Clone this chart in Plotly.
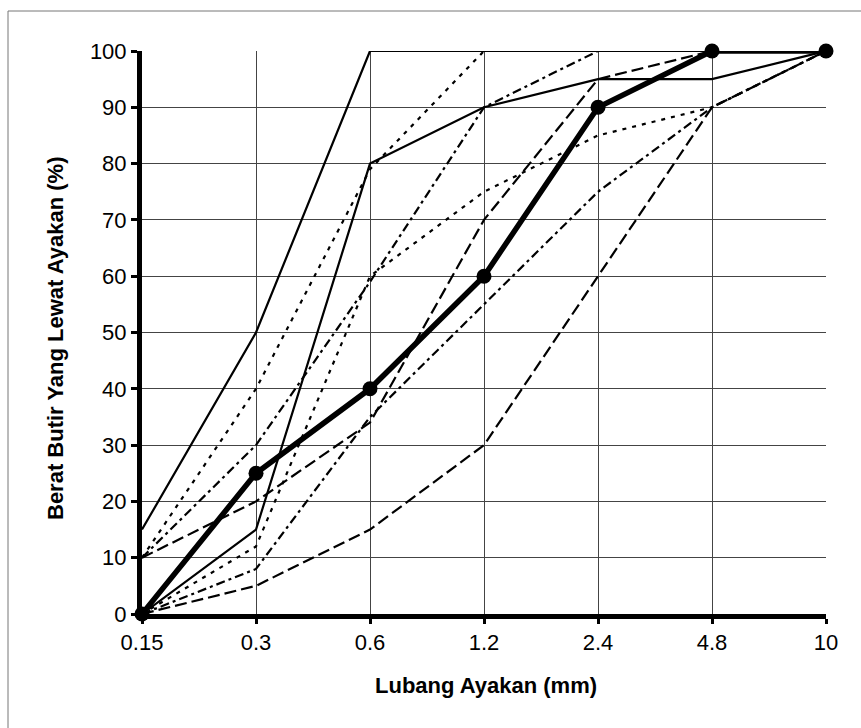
import plotly.graph_objects as go

sieve = ["0.15", "0.3", "0.6", "1.2", "2.4", "4.8", "10"]

zone4_upper = [15, 50, 100, 100, 100, 100, 100]
zone4_lower = [0, 15, 80, 90, 95, 95, 100]
zone3_upper = [10, 40, 79, 100, 100, 100, 100]
zone3_lower = [0, 12, 60, 75, 85, 90, 100]
zone2_upper = [10, 30, 59, 90, 100, 100, 100]
zone2_lower = [0, 8, 35, 55, 75, 90, 100]
zone1_upper = [10, 20, 34, 70, 95, 100, 100]
zone1_lower = [0, 5, 15, 30, 60, 90, 100]
sample = [0, 25, 40, 60, 90, 100, 100]

y_ticks = list(range(0, 101, 10))

W, H = 861, 728
L, R, T, B = 142, 826, 51, 614
FONT = "Liberation Sans, Arial, sans-serif"


def px(x):
    return (x - L) / (R - L)


def py(y):
    return (B - y) / (B - T)


fig = go.Figure()

styles = [
    (zone1_lower, "12px,5px"),
    (zone1_upper, "12px,5px"),
    (zone2_lower, "9px,4px,3px,4px"),
    (zone2_upper, "9px,4px,3px,4px"),
    (zone3_lower, "4px,6px"),
    (zone3_upper, "4px,6px"),
    (zone4_lower, "solid"),
    (zone4_upper, "solid"),
]
for vals, dash in styles:
    fig.add_trace(go.Scatter(
        x=sieve, y=vals, mode="lines", cliponaxis=False,
        line=dict(color="black", width=2.2, dash=dash),
        showlegend=False, hoverinfo="skip"))

fig.add_trace(go.Scatter(
    x=sieve, y=sample, mode="lines+markers", cliponaxis=False,
    line=dict(color="black", width=5.5),
    marker=dict(color="black", size=15),
    showlegend=False))

fig.update_layout(
    width=W, height=H,
    margin=dict(l=L, r=W - R, t=T, b=H - B),
    paper_bgcolor="white", plot_bgcolor="white",
    font=dict(family=FONT, color="black", size=22),
    xaxis=dict(
        type="category", range=[0, 6],
        tickvals=sieve, ticktext=sieve,
        showgrid=True, gridcolor="#444", gridwidth=1,
        showline=True, linecolor="black", linewidth=5,
        ticks="outside", ticklen=5, tickwidth=3, tickcolor="black",
        tickfont=dict(size=22),
        zeroline=False,
    ),
    yaxis=dict(
        range=[0, 100], tickvals=y_ticks,
        showgrid=True, gridcolor="#444", gridwidth=1,
        showline=True, linecolor="black", linewidth=5,
        ticks="outside", ticklen=6, tickwidth=3, tickcolor="black",
        tickfont=dict(size=22),
        zeroline=False,
    ),
    annotations=[
        dict(text="<b>Lubang Ayakan (mm)</b>", xref="paper", yref="paper",
             x=px(486), y=py(685), showarrow=False,
             font=dict(size=22), xanchor="center", yanchor="middle"),
        dict(text="<b>Berat Butir Yang Lewat Ayakan (%)</b>", xref="paper", yref="paper",
             x=px(55), y=py(338), showarrow=False, textangle=-90,
             font=dict(size=22), xanchor="center", yanchor="middle"),
    ],
    shapes=[
        dict(type="line", xref="paper", yref="paper",
             x0=px(8), x1=px(8), y0=py(11), y1=py(740),
             line=dict(color="#777", width=1)),
        dict(type="line", xref="paper", yref="paper",
             x0=px(8), x1=px(861), y0=py(11), y1=py(11),
             line=dict(color="#777", width=1)),
    ],
)

fig.write_html("out.html")
